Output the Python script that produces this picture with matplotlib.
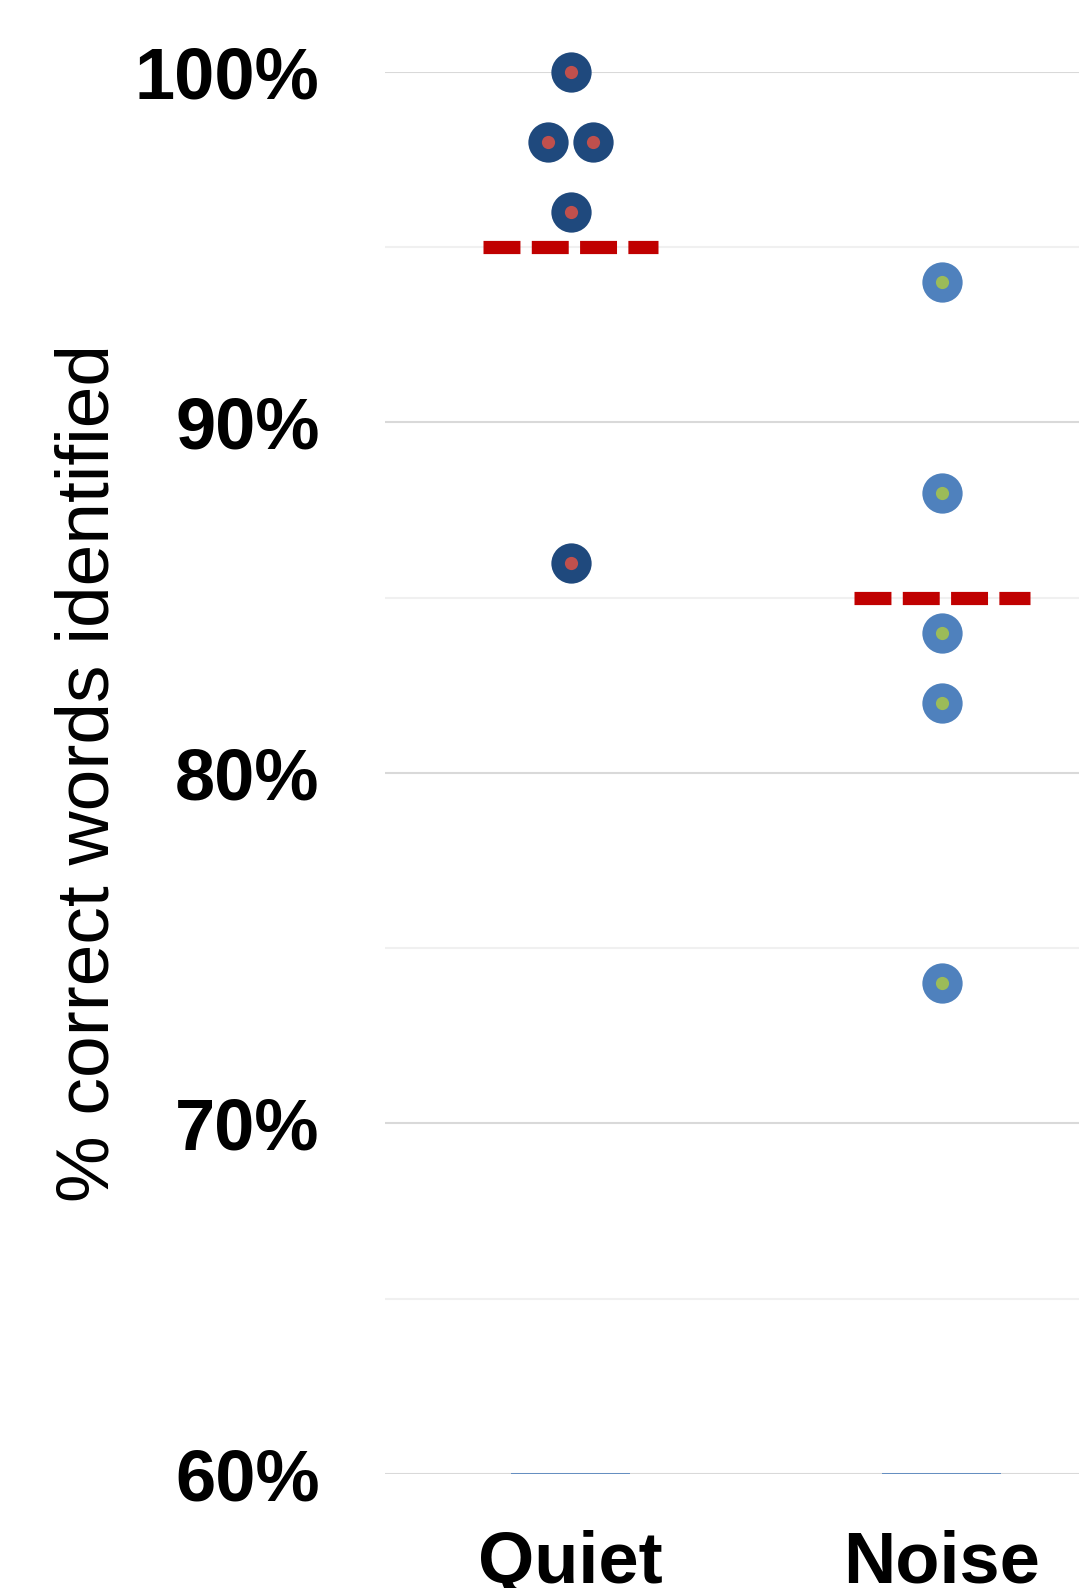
import numpy as np
import matplotlib.pyplot as plt

# data
conditions = ['Quiet', 'Noise']
quiet_scores = [100, 98, 98, 96, 86]
quiet_offsets = [0, -0.06, 0.06, 0, 0]
noise_scores = [94, 88, 84, 82, 74]
noise_offsets = [0, 0, 0, 0, 0]
mean_lines = [95, 85]
y_ticks = [60, 70, 80, 90, 100]
y_minor = [65, 75, 85, 95]

plt.rcParams['font.family'] = ['Liberation Sans', 'DejaVu Sans']

fig = plt.figure(figsize=(10.79, 15.88), dpi=100)
ax = fig.add_axes([385 / 1079, (1588 - 1474) / 1588, (1079 - 385) / 1079, (1474 - 72) / 1588])

x = np.arange(len(conditions))

# grid lines
for y in y_ticks:
    ax.axhline(y, color='#D9D9D9', lw=1.5, zorder=0)
for y in y_minor:
    ax.axhline(y, color='#F0F0F0', lw=1.5, zorder=0)

# zero-height bars at baseline
for xi in x:
    ax.hlines(60, xi - 0.16, xi + 0.16, color='#4F81BD', lw=1.2, zorder=1)

# mean lines
for xi, m in zip(x, mean_lines):
    ax.plot([xi - 0.236, xi + 0.236], [m, m], color='#C00000', lw=9.5,
            dashes=(2.8, 0.86), solid_capstyle='butt', dash_capstyle='butt', zorder=2)

# points
ax.scatter(x[0] + np.array(quiet_offsets), quiet_scores, s=29 ** 2, color='#1F497D', zorder=3, linewidths=0, clip_on=False)
ax.scatter(x[0] + np.array(quiet_offsets), quiet_scores, s=9.5 ** 2, color='#C0504D', zorder=4, linewidths=0, clip_on=False)
ax.scatter(x[1] + np.array(noise_offsets), noise_scores, s=29 ** 2, color='#4F81BD', zorder=3, linewidths=0, clip_on=False)
ax.scatter(x[1] + np.array(noise_offsets), noise_scores, s=9.5 ** 2, color='#9BBB59', zorder=4, linewidths=0, clip_on=False)

ax.set_xlim(-0.5, (1079 - 571) / 371)
ax.set_ylim(60, 100)
ax.set_yticks(y_ticks)
ax.set_yticklabels([f'{v}%' for v in y_ticks], fontsize=52, fontweight='bold')
ax.set_xticks(x)
ax.set_xticklabels(conditions, fontsize=52, fontweight='bold')
ax.tick_params(length=0)
ax.tick_params(axis='y', pad=47)
ax.tick_params(axis='x', pad=40)
for s in ax.spines.values():
    s.set_visible(False)

ax.set_ylabel('% correct words identified', fontsize=54)
ax.yaxis.set_label_coords((124 - 385) / 694, 0.5)

fig.savefig('out.png', dpi=100)
